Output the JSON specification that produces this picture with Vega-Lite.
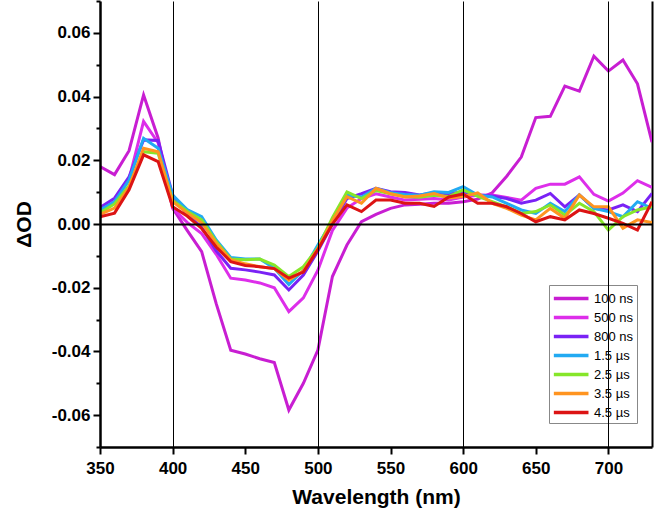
{
  "$schema": "https://vega.github.io/schema/vega-lite/v6.json",
  "width": 552,
  "height": 446,
  "autosize": {"type": "none"},
  "padding": {"left": 100, "top": 1, "right": 2, "bottom": 72},
  "background": "white",
  "config": {"view": {"stroke": null}, "font": "Liberation Sans"},
  "datasets": {
    "spectra": [
      {"s":"100 ns","wl":350,"od":0.018},{"s":"100 ns","wl":360,"od":0.0155},{"s":"100 ns","wl":370,"od":0.023},{"s":"100 ns","wl":380,"od":0.0405},{"s":"100 ns","wl":390,"od":0.027},{"s":"100 ns","wl":400,"od":0.005},{"s":"100 ns","wl":410,"od":-0.002},{"s":"100 ns","wl":420,"od":-0.0087},{"s":"100 ns","wl":430,"od":-0.025},{"s":"100 ns","wl":440,"od":-0.0396},{"s":"100 ns","wl":450,"od":-0.0408},{"s":"100 ns","wl":460,"od":-0.0423},{"s":"100 ns","wl":470,"od":-0.0435},{"s":"100 ns","wl":480,"od":-0.0584},{"s":"100 ns","wl":490,"od":-0.05},{"s":"100 ns","wl":500,"od":-0.0396},{"s":"100 ns","wl":510,"od":-0.0165},{"s":"100 ns","wl":520,"od":-0.0066},{"s":"100 ns","wl":530,"od":0.0007},{"s":"100 ns","wl":540,"od":0.003},{"s":"100 ns","wl":550,"od":0.0049},{"s":"100 ns","wl":560,"od":0.006},{"s":"100 ns","wl":570,"od":0.0062},{"s":"100 ns","wl":580,"od":0.0065},{"s":"100 ns","wl":590,"od":0.0065},{"s":"100 ns","wl":600,"od":0.007},{"s":"100 ns","wl":610,"od":0.0078},{"s":"100 ns","wl":620,"od":0.0098},{"s":"100 ns","wl":630,"od":0.015},{"s":"100 ns","wl":640,"od":0.021},{"s":"100 ns","wl":650,"od":0.0334},{"s":"100 ns","wl":660,"od":0.0338},{"s":"100 ns","wl":670,"od":0.0433},{"s":"100 ns","wl":680,"od":0.0417},{"s":"100 ns","wl":690,"od":0.0527},{"s":"100 ns","wl":700,"od":0.048},{"s":"100 ns","wl":710,"od":0.0515},{"s":"100 ns","wl":720,"od":0.044},{"s":"100 ns","wl":730,"od":0.0257},
      {"s":"500 ns","wl":350,"od":0.0042},{"s":"500 ns","wl":360,"od":0.007},{"s":"500 ns","wl":370,"od":0.014},{"s":"500 ns","wl":380,"od":0.0322},{"s":"500 ns","wl":390,"od":0.0255},{"s":"500 ns","wl":400,"od":0.005},{"s":"500 ns","wl":410,"od":0.0005},{"s":"500 ns","wl":420,"od":-0.003},{"s":"500 ns","wl":430,"od":-0.0095},{"s":"500 ns","wl":440,"od":-0.017},{"s":"500 ns","wl":450,"od":-0.0176},{"s":"500 ns","wl":460,"od":-0.0185},{"s":"500 ns","wl":470,"od":-0.02},{"s":"500 ns","wl":480,"od":-0.0275},{"s":"500 ns","wl":490,"od":-0.0232},{"s":"500 ns","wl":500,"od":-0.0145},{"s":"500 ns","wl":510,"od":-0.002},{"s":"500 ns","wl":520,"od":0.005},{"s":"500 ns","wl":530,"od":0.008},{"s":"500 ns","wl":540,"od":0.0095},{"s":"500 ns","wl":550,"od":0.0085},{"s":"500 ns","wl":560,"od":0.0075},{"s":"500 ns","wl":570,"od":0.0078},{"s":"500 ns","wl":580,"od":0.008},{"s":"500 ns","wl":590,"od":0.0075},{"s":"500 ns","wl":600,"od":0.0085},{"s":"500 ns","wl":610,"od":0.009},{"s":"500 ns","wl":620,"od":0.0091},{"s":"500 ns","wl":630,"od":0.0083},{"s":"500 ns","wl":640,"od":0.0075},{"s":"500 ns","wl":650,"od":0.0112},{"s":"500 ns","wl":660,"od":0.0125},{"s":"500 ns","wl":670,"od":0.0125},{"s":"500 ns","wl":680,"od":0.0148},{"s":"500 ns","wl":690,"od":0.0093},{"s":"500 ns","wl":700,"od":0.0072},{"s":"500 ns","wl":710,"od":0.0097},{"s":"500 ns","wl":720,"od":0.0136},{"s":"500 ns","wl":730,"od":0.0115},
      {"s":"800 ns","wl":350,"od":0.0052},{"s":"800 ns","wl":360,"od":0.0081},{"s":"800 ns","wl":370,"od":0.0148},{"s":"800 ns","wl":380,"od":0.0264},{"s":"800 ns","wl":390,"od":0.0262},{"s":"800 ns","wl":400,"od":0.0091},{"s":"800 ns","wl":410,"od":0.003},{"s":"800 ns","wl":420,"od":-0.001},{"s":"800 ns","wl":430,"od":-0.0084},{"s":"800 ns","wl":440,"od":-0.0139},{"s":"800 ns","wl":450,"od":-0.0144},{"s":"800 ns","wl":460,"od":-0.0151},{"s":"800 ns","wl":470,"od":-0.016},{"s":"800 ns","wl":480,"od":-0.0207},{"s":"800 ns","wl":490,"od":-0.016},{"s":"800 ns","wl":500,"od":-0.0085},{"s":"800 ns","wl":510,"od":0.0},{"s":"800 ns","wl":520,"od":0.008},{"s":"800 ns","wl":530,"od":0.0095},{"s":"800 ns","wl":540,"od":0.0112},{"s":"800 ns","wl":550,"od":0.0101},{"s":"800 ns","wl":560,"od":0.0099},{"s":"800 ns","wl":570,"od":0.0091},{"s":"800 ns","wl":580,"od":0.0098},{"s":"800 ns","wl":590,"od":0.0095},{"s":"800 ns","wl":600,"od":0.0101},{"s":"800 ns","wl":610,"od":0.0091},{"s":"800 ns","wl":620,"od":0.0088},{"s":"800 ns","wl":630,"od":0.008},{"s":"800 ns","wl":640,"od":0.0065},{"s":"800 ns","wl":650,"od":0.0075},{"s":"800 ns","wl":660,"od":0.0096},{"s":"800 ns","wl":670,"od":0.0054},{"s":"800 ns","wl":680,"od":0.0091},{"s":"800 ns","wl":690,"od":0.0049},{"s":"800 ns","wl":700,"od":0.0044},{"s":"800 ns","wl":710,"od":0.006},{"s":"800 ns","wl":720,"od":0.0039},{"s":"800 ns","wl":730,"od":0.0096},
      {"s":"1.5 µs","wl":350,"od":0.0044},{"s":"1.5 µs","wl":360,"od":0.007},{"s":"1.5 µs","wl":370,"od":0.0138},{"s":"1.5 µs","wl":380,"od":0.0269},{"s":"1.5 µs","wl":390,"od":0.0238},{"s":"1.5 µs","wl":400,"od":0.0091},{"s":"1.5 µs","wl":410,"od":0.0045},{"s":"1.5 µs","wl":420,"od":0.0023},{"s":"1.5 µs","wl":430,"od":-0.005},{"s":"1.5 µs","wl":440,"od":-0.0105},{"s":"1.5 µs","wl":450,"od":-0.011},{"s":"1.5 µs","wl":460,"od":-0.011},{"s":"1.5 µs","wl":470,"od":-0.0139},{"s":"1.5 µs","wl":480,"od":-0.019},{"s":"1.5 µs","wl":490,"od":-0.0145},{"s":"1.5 µs","wl":500,"od":-0.0066},{"s":"1.5 µs","wl":510,"od":0.001},{"s":"1.5 µs","wl":520,"od":0.009},{"s":"1.5 µs","wl":530,"od":0.0085},{"s":"1.5 µs","wl":540,"od":0.0112},{"s":"1.5 µs","wl":550,"od":0.0098},{"s":"1.5 µs","wl":560,"od":0.0093},{"s":"1.5 µs","wl":570,"od":0.009},{"s":"1.5 µs","wl":580,"od":0.0101},{"s":"1.5 µs","wl":590,"od":0.0099},{"s":"1.5 µs","wl":600,"od":0.0117},{"s":"1.5 µs","wl":610,"od":0.0091},{"s":"1.5 µs","wl":620,"od":0.0085},{"s":"1.5 µs","wl":630,"od":0.0065},{"s":"1.5 µs","wl":640,"od":0.0044},{"s":"1.5 µs","wl":650,"od":0.0033},{"s":"1.5 µs","wl":660,"od":0.0065},{"s":"1.5 µs","wl":670,"od":0.0039},{"s":"1.5 µs","wl":680,"od":0.0091},{"s":"1.5 µs","wl":690,"od":0.0049},{"s":"1.5 µs","wl":700,"od":0.0039},{"s":"1.5 µs","wl":710,"od":0.0023},{"s":"1.5 µs","wl":720,"od":0.007},{"s":"1.5 µs","wl":730,"od":0.0049},
      {"s":"2.5 µs","wl":350,"od":0.0035},{"s":"2.5 µs","wl":360,"od":0.0063},{"s":"2.5 µs","wl":370,"od":0.012},{"s":"2.5 µs","wl":380,"od":0.0227},{"s":"2.5 µs","wl":390,"od":0.0222},{"s":"2.5 µs","wl":400,"od":0.0075},{"s":"2.5 µs","wl":410,"od":0.004},{"s":"2.5 µs","wl":420,"od":0.0013},{"s":"2.5 µs","wl":430,"od":-0.0055},{"s":"2.5 µs","wl":440,"od":-0.011},{"s":"2.5 µs","wl":450,"od":-0.0112},{"s":"2.5 µs","wl":460,"od":-0.011},{"s":"2.5 µs","wl":470,"od":-0.0129},{"s":"2.5 µs","wl":480,"od":-0.0165},{"s":"2.5 µs","wl":490,"od":-0.0134},{"s":"2.5 µs","wl":500,"od":-0.0075},{"s":"2.5 µs","wl":510,"od":0.002},{"s":"2.5 µs","wl":520,"od":0.0101},{"s":"2.5 µs","wl":530,"od":0.008},{"s":"2.5 µs","wl":540,"od":0.0105},{"s":"2.5 µs","wl":550,"od":0.0095},{"s":"2.5 µs","wl":560,"od":0.0086},{"s":"2.5 µs","wl":570,"od":0.0084},{"s":"2.5 µs","wl":580,"od":0.009},{"s":"2.5 µs","wl":590,"od":0.0086},{"s":"2.5 µs","wl":600,"od":0.0107},{"s":"2.5 µs","wl":610,"od":0.0087},{"s":"2.5 µs","wl":620,"od":0.007},{"s":"2.5 µs","wl":630,"od":0.0054},{"s":"2.5 µs","wl":640,"od":0.0033},{"s":"2.5 µs","wl":650,"od":0.0039},{"s":"2.5 µs","wl":660,"od":0.006},{"s":"2.5 µs","wl":670,"od":0.0028},{"s":"2.5 µs","wl":680,"od":0.0065},{"s":"2.5 µs","wl":690,"od":0.0039},{"s":"2.5 µs","wl":700,"od":-0.0019},{"s":"2.5 µs","wl":710,"od":0.0023},{"s":"2.5 µs","wl":720,"od":0.0044},{"s":"2.5 µs","wl":730,"od":0.0054},
      {"s":"3.5 µs","wl":350,"od":0.003},{"s":"3.5 µs","wl":360,"od":0.005},{"s":"3.5 µs","wl":370,"od":0.0115},{"s":"3.5 µs","wl":380,"od":0.0238},{"s":"3.5 µs","wl":390,"od":0.0227},{"s":"3.5 µs","wl":400,"od":0.007},{"s":"3.5 µs","wl":410,"od":0.0035},{"s":"3.5 µs","wl":420,"od":0.0004},{"s":"3.5 µs","wl":430,"od":-0.006},{"s":"3.5 µs","wl":440,"od":-0.0112},{"s":"3.5 µs","wl":450,"od":-0.0125},{"s":"3.5 µs","wl":460,"od":-0.0134},{"s":"3.5 µs","wl":470,"od":-0.014},{"s":"3.5 µs","wl":480,"od":-0.0176},{"s":"3.5 µs","wl":490,"od":-0.0147},{"s":"3.5 µs","wl":500,"od":-0.0078},{"s":"3.5 µs","wl":510,"od":0.001},{"s":"3.5 µs","wl":520,"od":0.0086},{"s":"3.5 µs","wl":530,"od":0.0065},{"s":"3.5 µs","wl":540,"od":0.0112},{"s":"3.5 µs","wl":550,"od":0.0095},{"s":"3.5 µs","wl":560,"od":0.0085},{"s":"3.5 µs","wl":570,"od":0.0088},{"s":"3.5 µs","wl":580,"od":0.0096},{"s":"3.5 µs","wl":590,"od":0.0082},{"s":"3.5 µs","wl":600,"od":0.0086},{"s":"3.5 µs","wl":610,"od":0.0098},{"s":"3.5 µs","wl":620,"od":0.0065},{"s":"3.5 µs","wl":630,"od":0.0049},{"s":"3.5 µs","wl":640,"od":0.0028},{"s":"3.5 µs","wl":650,"od":0.0013},{"s":"3.5 µs","wl":660,"od":0.0049},{"s":"3.5 µs","wl":670,"od":0.0018},{"s":"3.5 µs","wl":680,"od":0.0091},{"s":"3.5 µs","wl":690,"od":0.0054},{"s":"3.5 µs","wl":700,"od":0.0054},{"s":"3.5 µs","wl":710,"od":-0.0013},{"s":"3.5 µs","wl":720,"od":0.0013},{"s":"3.5 µs","wl":730,"od":0.0005},
      {"s":"4.5 µs","wl":350,"od":0.0023},{"s":"4.5 µs","wl":360,"od":0.0034},{"s":"4.5 µs","wl":370,"od":0.0107},{"s":"4.5 µs","wl":380,"od":0.0217},{"s":"4.5 µs","wl":390,"od":0.0196},{"s":"4.5 µs","wl":400,"od":0.0054},{"s":"4.5 µs","wl":410,"od":0.0025},{"s":"4.5 µs","wl":420,"od":-0.0014},{"s":"4.5 µs","wl":430,"od":-0.0072},{"s":"4.5 µs","wl":440,"od":-0.0118},{"s":"4.5 µs","wl":450,"od":-0.013},{"s":"4.5 µs","wl":460,"od":-0.0134},{"s":"4.5 µs","wl":470,"od":-0.014},{"s":"4.5 µs","wl":480,"od":-0.017},{"s":"4.5 µs","wl":490,"od":-0.0151},{"s":"4.5 µs","wl":500,"od":-0.008},{"s":"4.5 µs","wl":510,"od":0.0},{"s":"4.5 µs","wl":520,"od":0.006},{"s":"4.5 µs","wl":530,"od":0.0039},{"s":"4.5 µs","wl":540,"od":0.0075},{"s":"4.5 µs","wl":550,"od":0.0075},{"s":"4.5 µs","wl":560,"od":0.0065},{"s":"4.5 µs","wl":570,"od":0.0065},{"s":"4.5 µs","wl":580,"od":0.0055},{"s":"4.5 µs","wl":590,"od":0.0085},{"s":"4.5 µs","wl":600,"od":0.0094},{"s":"4.5 µs","wl":610,"od":0.0065},{"s":"4.5 µs","wl":620,"od":0.0065},{"s":"4.5 µs","wl":630,"od":0.0054},{"s":"4.5 µs","wl":640,"od":0.0033},{"s":"4.5 µs","wl":650,"od":0.0007},{"s":"4.5 µs","wl":660,"od":0.0023},{"s":"4.5 µs","wl":670,"od":0.0013},{"s":"4.5 µs","wl":680,"od":0.0044},{"s":"4.5 µs","wl":690,"od":0.0033},{"s":"4.5 µs","wl":700,"od":0.0018},{"s":"4.5 µs","wl":710,"od":0.0002},{"s":"4.5 µs","wl":720,"od":-0.0019},{"s":"4.5 µs","wl":730,"od":0.007}
    ]
  },
  "data": {"name": "spectra"},
  "layer": [
    {
      "mark": {"type": "line", "strokeWidth": 3, "clip": true},
      "encoding": {
        "x": {
          "field": "wl", "type": "quantitative",
          "scale": {"domain": [350, 730], "nice": false, "zero": false},
          "axis": {
            "values": [350,375,400,425,450,475,500,525,550,575,600,625,650,675,700,725],
            "format": "d",
            "labelExpr": "datum.value % 50 === 0 ? datum.label : ''",
            "labelFlush": false,
            "labelOverlap": false,
            "tickSize": {"condition": {"test": "datum.value % 50 === 0", "value": 7}, "value": 4},
            "tickWidth": 2, "tickColor": "black",
            "domainColor": "black", "domainWidth": 2.5,
            "grid": true, "gridColor": "black", "gridWidth": 1,
            "gridOpacity": {"condition": {"test": "datum.value % 100 === 0", "value": 1}, "value": 0},
            "labelFont": "Liberation Sans", "labelFontWeight": "bold", "labelFontSize": 17, "labelColor": "black", "labelPadding": 6,
            "title": "Wavelength (nm)", "titleFont": "Liberation Sans", "titleFontSize": 21, "titleFontWeight": "bold", "titleColor": "black", "titlePadding": 10,
            "zindex": 1
          }
        },
        "y": {
          "field": "od", "type": "quantitative",
          "scale": {"domain": [-0.07, 0.07], "nice": false, "zero": false},
          "axis": {
            "values": [-0.07,-0.06,-0.05,-0.04,-0.03,-0.02,-0.01,0,0.01,0.02,0.03,0.04,0.05,0.06,0.07],
            "format": ".2f",
            "labelExpr": "abs(round(datum.value*100)) % 2 === 0 ? replace(datum.label, '−', '-') : ''",
            "labelOverlap": false,
            "labelFlush": false,
            "tickSize": {"condition": {"test": "abs(round(datum.value*100)) % 2 === 0", "value": 7}, "value": 4},
            "tickWidth": 2, "tickColor": "black",
            "domainColor": "black", "domainWidth": 2.5,
            "grid": true, "gridColor": "black", "gridWidth": 2,
            "gridOpacity": {"condition": {"test": "abs(datum.value) < 0.0001", "value": 1}, "value": 0},
            "labelFont": "Liberation Sans", "labelFontWeight": "bold", "labelFontSize": 17, "labelColor": "black", "labelPadding": 3,
            "title": "ΔOD", "titleFont": "Liberation Sans", "titleFontSize": 21, "titleFontWeight": "bold", "titleColor": "black", "titlePadding": 17,
            "zindex": 1
          }
        },
        "color": {
          "field": "s", "type": "nominal",
          "scale": {
            "domain": ["100 ns","500 ns","800 ns","1.5 µs","2.5 µs","3.5 µs","4.5 µs"],
            "range": ["#C81ED2","#DD2EEA","#7A22F5","#22AAF2","#86E62A","#FF9420","#DC1414"]
          },
          "legend": {
            "orient": "none", "legendX": 449, "legendY": 284,
            "title": null,
            "symbolType": "M-1,0H3",
            "symbolSize": 300,
            "symbolStrokeWidth": 3.5,
            "labelFont": "Liberation Sans", "labelFontSize": 13, "labelColor": "black", "labelOffset": 21,
            "padding": 3, "rowPadding": 1,
            "strokeColor": "#888888", "fillColor": "white"
          }
        }
      }
    },
    {
      "mark": {"type": "line", "opacity": 0},
      "encoding": {
        "x": {"field": "wl", "type": "quantitative"},
        "y": {
          "field": "od", "type": "quantitative",
          "axis": {"orient": "right", "labels": false, "ticks": false, "domain": true, "domainColor": "black", "domainWidth": 2, "title": null, "grid": false}
        }
      }
    }
  ],
  "resolve": {"axis": {"y": "independent"}}
}
